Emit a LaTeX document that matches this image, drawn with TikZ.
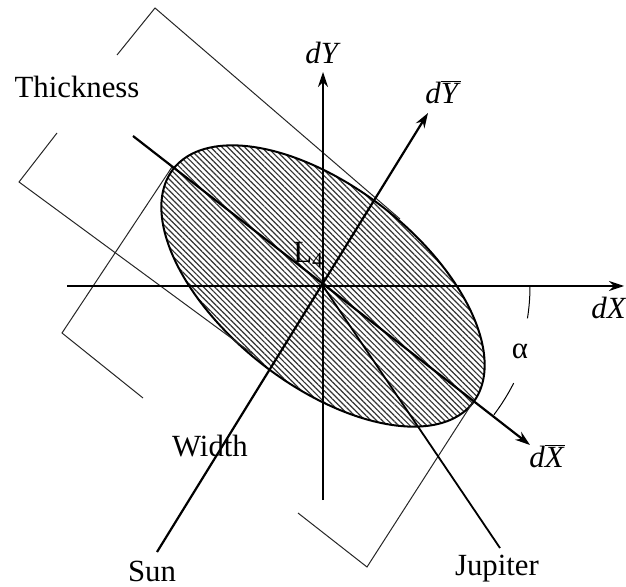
\documentclass[tikz,border=0pt]{standalone}
\usepackage{fontspec}
\setmainfont{Liberation Serif}
\usetikzlibrary{arrows.meta, patterns.meta}
\newcommand{\dvar}[1]{\textit{d#1}}
\newcommand{\dbar}[1]{\textit{d}$\overline{\mbox{\textit{#1}}}$}

\begin{document}
\begin{tikzpicture}[
    x=0.5pt, y=-0.5pt,
    axis/.style={line width=0.6pt},
    baraxis/.style={line width=1.1pt},
    box/.style={line width=0.5pt, black!85},
    lbl/.style={font=\fontsize{15.4}{18}\selectfont, inner sep=0pt},
    >={Stealth[length=7.5pt, width=5pt, inset=2.5pt]}
]
\useasboundingbox (0,0) rectangle (626,587);
% centre and axis ends
\coordinate (O) at (323,286);
\coordinate (dxStart) at (67,286);
\coordinate (dxTip) at (624,286);
\coordinate (dyStart) at (323,500);
\coordinate (dyTip) at (323,72);
\coordinate (sunEnd) at (157,552);
\coordinate (dybTip) at (428,113);
\coordinate (dxbStart) at (133,136);
\coordinate (dxbTip) at (530,445);
\coordinate (jupEnd) at (500,548);
% ellipse
\draw[line width=1pt, pattern={Lines[angle=-45, distance=2pt, line width=0.6pt]}, pattern color=black!80]
  plot[domain=0:360, samples=120, smooth cycle]
  ({323+190*cos(\x)*0.788+99*sin(\x)*0.616}, {286+190*cos(\x)*0.616-99*sin(\x)*0.788});
% thickness box
\coordinate (tTop) at (155,8);
\coordinate (tGapA) at (117,55);
\coordinate (tGapB) at (57,133);
\coordinate (tLeft) at (19,182);
\coordinate (tTopEnd) at (400,219);
\coordinate (tBotEnd) at (253,354);
\draw[box] (tTopEnd) -- (tTop) -- (tGapA);
\draw[box] (tGapB) -- (tLeft) -- (tBotEnd);
% width box
\coordinate (wLeft) at (62,333);
\coordinate (wTopEnd) at (172,167);
\coordinate (wGapA) at (143,398);
\coordinate (wGapB) at (298,513);
\coordinate (wBot) at (367,567);
\coordinate (wRightEnd) at (473,402);
\draw[box] (wTopEnd) -- (wLeft) -- (wGapA);
\draw[box] (wGapB) -- (wBot) -- (wRightEnd);
% axes
\draw[axis, ->] (dxStart) -- (dxTip);
\draw[axis, ->] (dyStart) -- (dyTip);
\draw[baraxis, ->] (sunEnd) -- (dybTip);
\draw[baraxis, ->] (dxbStart) -- (dxbTip);
\draw[line width=0.9pt] (O) -- (jupEnd);
% angle alpha
\draw[line width=0.5pt] (O) ++(0:103.5pt) arc[start angle=0, end angle=-9, radius=103.5pt];
\draw[line width=0.5pt] (O) ++(-27:107pt) arc[start angle=-27, end angle=-37, radius=107pt];
% labels
\node[lbl] (thick) at (77,87) {Thickness};
\node[lbl] (width) at (210,446) {Width};
\node[lbl] (sun) at (152,571) {Sun};
\node[lbl] (jup) at (497,569) {Jupiter};
\node[lbl] (dy) at (323,53) {\dvar{Y}};
\node[lbl] (dyb) at (443,92) {\dbar{Y}};
\node[lbl, anchor=west] (dx) at (591,308) {\dvar{X}};
\node[lbl] (dxb) at (547,456) {\dbar{X}};
\node[lbl] (alpha) at (520,351) {α};
\node[lbl, anchor=base west] (lag) at (293,263) {L\textsubscript{4}};
\end{tikzpicture}
\end{document}
